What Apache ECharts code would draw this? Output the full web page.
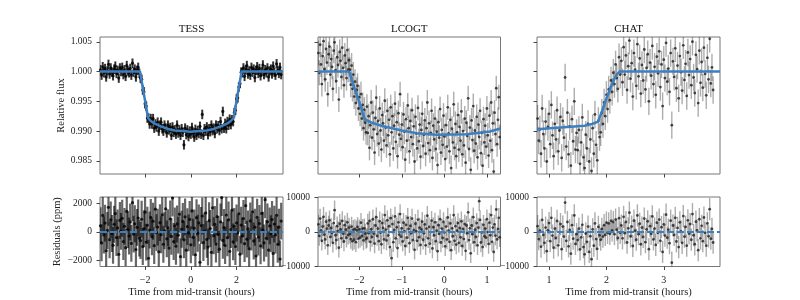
<!DOCTYPE html>
<html><head><meta charset="utf-8">
<script src="https://cdn.jsdelivr.net/npm/echarts@6/dist/echarts.min.js"></script>
<style>html,body{margin:0;padding:0;background:#fff}#c{width:800px;height:300px}</style>
</head><body><div id="c"></div>
<script>
// ---------- TESS ----------
const tessTime = [-3.95,-3.9,-3.85,-3.8,-3.75,-3.7,-3.65,-3.6,-3.55,-3.5,-3.45,-3.4,-3.35,-3.3,-3.25,-3.2,-3.15,-3.1,-3.05,-3,-2.95,-2.9,-2.85,-2.8,-2.75,-2.7,-2.65,-2.6,-2.55,-2.5,-2.45,-2.4,-2.35,-2.3,-2.25,
-2.2,-2.15,-2.1,-2.05,-2,-1.95,-1.9,
-1.85,-1.8,-1.75,-1.7,-1.65,-1.6,-1.55,-1.5,-1.45,-1.4,-1.35,-1.3,-1.25,-1.2,-1.15,-1.1,-1.05,-1,-0.95,-0.9,-0.85,-0.8,-0.75,-0.7,-0.65,-0.6,-0.55,-0.5,-0.45,-0.4,-0.35,-0.3,-0.25,-0.2,-0.15,-0.1,-0.05,0,0.05,0.1,0.15,0.2,0.25,0.3,0.35,0.4,0.45,0.5,0.55,0.6,0.65,0.7,0.75,0.8,0.85,0.9,0.95,1,1.05,1.1,1.15,1.2,1.25,1.3,1.35,1.4,1.45,1.5,1.55,1.6,1.65,1.7,1.75,1.8,1.85,
1.9,1.95,2,2.05,2.1,2.15,2.2,
2.25,2.3,2.35,2.4,2.45,2.5,2.55,2.6,2.65,2.7,2.75,2.8,2.85,2.9,2.95,3,3.05,3.1,3.15,3.2,3.25,3.3,3.35,3.4,3.45,3.5,3.55,3.6,3.65,3.7,3.75,3.8,3.85,3.9,3.95];
const tessFlux = [1.0003,0.9994,1.0008,0.9998,1.0005,0.9991,1.0001,1.0012,0.9996,1.0006,0.9999,0.9993,1.0004,1.0009,0.9997,1.0002,0.9989,1.0006,1.0000,1.0007,0.9995,1.0003,0.9992,1.0010,1.0001,0.9998,1.0005,0.9994,1.0014,0.9999,1.0004,0.9991,1.0002,1.0007,0.9997,
0.9989,0.9987,0.9969,0.9966,0.9946,0.9942,0.9922,
0.9922,0.9912,0.9921,0.9912,0.9921,0.9905,0.9912,0.9907,0.9915,0.9900,0.9910,0.9915,0.9904,0.9900,0.9910,0.9905,0.9897,0.9910,0.9902,0.9906,0.9893,0.9907,0.9898,0.9902,0.9895,0.9910,0.9897,0.9902,0.9893,0.9904,0.9898,0.9877,0.9905,0.9894,0.9902,0.9891,0.9900,0.9895,0.9906,0.9897,0.9890,0.9903,0.9893,0.9901,0.9896,0.9908,0.9895,0.9928,0.9893,0.9904,0.9900,0.9907,0.9894,0.9904,0.9899,0.9910,0.9901,0.9905,0.9896,0.9910,0.9904,0.9909,0.9901,0.9916,0.9904,0.9933,0.9905,0.9913,0.9904,0.9916,0.9910,0.9920,0.9911,0.9919,0.9916,
0.9931,0.9935,0.9954,0.9956,0.9974,0.9980,0.9999,
0.9998,1.0006,0.9992,1.0003,1.0010,0.9996,1.0001,0.9994,1.0007,0.9999,1.0004,0.9990,1.0002,1.0008,0.9997,1.0005,0.9993,1.0000,1.0011,0.9995,1.0003,0.9998,1.0006,0.9991,1.0001,1.0004,0.9996,1.0009,0.9999,0.9994,1.0013,1.0002,0.9997,1.0007,0.9995];
const tessResid = [420,-780,1150,-230,610,-1340,90,1720,-560,840,
-120,-960,530,1280,-410,270,-1590,800,30,950,
-690,380,-1120,1430,150,-300,690,-820,2050,-170,
560,-1250,310,970,-450,-620,880,-1040,210,1380,
-730,460,-1870,120,1010,-350,740,-980,1590,-60,
330,-1410,640,-210,1190,-880,70,1620,-500,280,
-1150,900,-330,2380,-690,410,-1020,550,-240,1240,
-1760,180,730,-570,1050,-1300,360,-80,870,-920,
1470,-390,260,-1620,990,-110,620,-2150,440,1110,
-760,40,1330,-540,-1080,780,230,-1450,1690,-280,
520,-870,1060,-190,-1230,690,2410,-610,300,-970,
1180,-420,840,-1380,150,1520,-710,380,-1040,620,
-90,1270,-1580,470,-300,930,-840,1840,-520,200,
-1190,760,-20,1400,-650,320,-1710,1020,-370,580,
-1000,1290,110,-790,2260,-460,700,-1290,410,-140,
860,-1530,540,-230,1160,-880,320,-1920,750];
const tessFluxErr = 0.0008;
const tessResidErr = 1300;
const tessModelTime = [-3.97,-2.22,-1.87,-1.75,-1.6,-1.3,-1.0,-0.7,-0.35,0,0.35,0.7,1.0,1.3,1.6,1.75,1.87,2.22,4.03];
const tessModelFlux = [1.0,1.0,0.9922,0.9917,0.9913,0.9908,0.99035,0.9901,0.9900,0.9899,0.9900,0.9901,0.99035,0.9908,0.9913,0.9917,0.9922,1.0,1.0];

// ---------- LCOGT ----------
const lcogtTime = [-2.96,-2.94,-2.92,-2.9,-2.88,-2.86,-2.84,-2.82,-2.8,-2.78,-2.76,-2.74,-2.72,-2.7,-2.68,-2.66,-2.64,-2.62,-2.6,-2.58,-2.56,-2.54,-2.52,-2.5,-2.48,-2.46,-2.44,-2.42,-2.4,-2.38,-2.36,-2.34,-2.32,-2.3,-2.28,-2.26,
-2.24,-2.22,-2.2,-2.18,-2.16,-2.14,-2.12,-2.1,-2.08,-2.06,-2.04,-2.02,-2,-1.98,-1.96,-1.94,-1.92,-1.9,-1.88,-1.86,-1.84,
-1.82,-1.8,-1.78,-1.76,-1.74,-1.72,-1.7,-1.68,-1.66,-1.64,
-1.62,-1.6,-1.58,-1.56,-1.54,-1.52,-1.5,-1.48,-1.46,-1.44,
-1.42,-1.4,-1.38,-1.36,-1.34,-1.32,-1.3,-1.28,-1.26,-1.24,
-1.22,-1.2,-1.18,-1.16,-1.14,-1.12,-1.1,-1.08,-1.06,-1.04,
-1.02,-1,-0.98,-0.96,-0.94,-0.92,-0.9,-0.88,-0.86,-0.84,
-0.82,-0.8,-0.78,-0.76,-0.74,-0.72,-0.7,-0.68,-0.66,-0.64,
-0.62,-0.6,-0.58,-0.56,-0.54,-0.52,-0.5,-0.48,-0.46,-0.44,
-0.42,-0.4,-0.38,-0.36,-0.34,-0.32,-0.3,-0.28,-0.26,-0.24,
-0.22,-0.2,-0.18,-0.16,-0.14,-0.12,-0.1,-0.08,-0.06,-0.04,
-0.02,0,0.02,0.04,0.06,0.08,0.1,0.12,0.14,0.16,
0.18,0.2,0.22,0.24,0.26,0.28,0.3,0.32,0.34,0.36,
0.38,0.4,0.42,0.44,0.46,0.48,0.5,0.52,0.54,0.56,
0.58,0.6,0.62,0.64,0.66,0.68,0.7,0.72,0.74,0.76,
0.78,0.8,0.82,0.84,0.86,0.88,0.9,0.92,0.94,0.96,
0.98,1,1.02,1.04,1.06,1.08,1.1,1.12,1.14,1.16,
1.18,1.2,1.22,1.24,1.26,1.28,1.3];
const lcogtFlux = [1.0031,0.9998,1.0045,1.0012,0.9979,1.0026,1.0051,1.0004,0.9987,1.0038,
1.0015,0.9962,1.0029,1.0042,0.9995,1.0021,1.0008,0.9971,1.0035,1.0049,
1.0002,0.9984,1.0024,1.0011,0.9953,1.0033,1.0018,0.9991,1.0040,1.0006,
0.9977,1.0027,1.0014,0.9989,1.0036,1.0003,
1.0019,1.0003,0.9978,1.0010,0.9971,0.9995,0.9958,0.9983,0.9947,0.9969,
0.9976,0.9938,0.9957,0.9929,0.9962,0.9921,0.9944,0.9905,0.9936,0.9914,0.9898,
0.9941,0.9897,0.9925,0.9872,0.9910,0.9948,0.9889,0.9931,0.9903,0.9864,
0.9922,0.9956,0.9895,0.9917,0.9879,0.9938,0.9901,0.9869,0.9927,0.9913,
0.9884,0.9951,0.9906,0.9876,0.9934,0.9893,0.9919,0.9861,0.9940,0.9898,
0.9925,0.9871,0.9909,0.9946,0.9882,0.9915,0.9858,0.9930,0.9894,0.9962,
0.9887,0.9911,0.9873,0.9928,0.9899,0.9852,0.9920,0.9884,0.9943,0.9905,
0.9866,0.9917,0.9890,0.9935,0.9878,0.9908,0.9849,0.9924,0.9896,0.9871,
0.9939,0.9883,0.9911,0.9857,0.9902,0.9929,0.9875,0.9894,0.9918,0.9862,
0.9905,0.9948,0.9880,0.9913,0.9868,0.9897,0.9934,0.9855,0.9909,0.9886,
0.9921,0.9870,0.9899,0.9843,0.9915,0.9889,0.9937,0.9864,0.9902,0.9877,
0.9926,0.9891,0.9853,0.9910,0.9874,0.9940,0.9896,0.9866,0.9919,0.9838,
0.9904,0.9881,0.9945,0.9872,0.9912,0.9858,0.9898,0.9927,0.9869,0.9907,
0.9884,0.9933,0.9861,0.9900,0.9876,0.9921,0.9847,0.9914,0.9892,0.9955,
0.9870,0.9906,0.9835,0.9918,0.9885,0.9942,0.9867,0.9901,0.9879,0.9924,
0.9856,0.9911,0.9890,0.9934,0.9863,0.9897,0.9842,0.9920,0.9881,0.9909,
0.9874,0.9938,0.9893,0.9859,0.9926,0.9884,0.9948,0.9868,0.9913,0.9832,
0.9931,0.9895,0.9972,0.9878,0.9919,0.9957,0.9890];
const lcogtResid = [2100,-1200,3800,400,-2600,1500,4300,-800,-2200,2900,
900,-3900,1800,3300,-1500,1100,-300,-3200,2500,6200,
-1000,-2400,1600,200,-4600,2300,700,-1900,3100,-500,
-2800,1900,600,-1700,2700,-900,
1200,-600,-2100,1500,-2700,600,-2300,800,-3000,400,
1400,-2000,700,-1700,2600,-1200,900,-2500,1000,-500,-2100,
-1800,2400,-400,3100,-2900,700,-1500,3600,-500,-3400,
1800,4200,-1200,900,-2700,3000,-300,-3600,2500,1100,
-2200,4800,600,-2500,3300,-1100,1600,-4400,3900,-7600,
2200,-3000,500,4400,-1900,1300,-4700,2700,-800,5100,
-1400,1000,-2800,2600,100,-4100,2000,-1700,4000,800,
-3300,1700,-400,3800,-2400,500,-5200,2300,200,-2600,
3500,-1600,1200,-3800,700,2900,-2300,-400,2100,-3900,
900,4600,-1900,1400,-3400,-100,3200,-4800,1300,-1000,
2700,-2700,300,-5600,1900,-600,3600,-3100,900,-1800,
2800,-200,-4200,1500,-2200,4100,300,-2900,2400,-5300,
1000,-1300,4800,-2600,1600,-3700,300,2500,-3200,1100,
-1600,3000,-4100,800,-2100,2200,-5500,1800,-400,5600,
-2400,1000,-6200,1800,-700,4200,-3000,600,-1500,2500,
-3900,1200,8800,3400,-3100,-200,-4400,2000,-1300,900,
-1700,3600,-100,-3500,2600,-1000,4800,-2900,1200,-5800,
2100,-1100,6400,-2200,800,4000,-1600];
const lcogtFluxErr = 0.0021;
const lcogtResidErr = 2800;
const lcogtModelTime = [-2.97,-2.24,-1.87,-1.7,-1.48,-1.0,-0.65,-0.18,0.52,1.07,1.32];
const lcogtModelFlux = [1.0,1.0,0.9920,0.9914,0.9909,0.9901,0.98966,0.98937,0.98949,0.98993,0.99044];

// ---------- CHAT ----------
const chatTime = [0.8,0.82,0.84,0.86,0.88,0.9,0.92,0.94,0.96,0.98,
1,1.02,1.04,1.06,1.08,1.1,1.12,1.14,1.16,1.18,
1.2,1.22,1.24,1.26,1.28,1.3,1.32,1.34,1.36,1.38,
1.4,1.42,1.44,1.46,1.48,
1.5,1.52,1.54,1.56,1.58,1.6,1.62,1.64,1.66,1.68,
1.7,1.72,1.74,1.76,1.78,1.8,1.82,1.84,1.86,1.88,
1.9,1.92,1.94,1.96,1.98,2,2.02,2.04,2.06,2.08,
2.1,2.12,2.14,2.16,2.18,2.2,2.22,2.24,
2.26,2.28,2.3,2.32,2.34,2.36,2.38,2.4,2.42,2.44,
2.46,2.48,2.5,2.52,2.54,2.56,2.58,2.6,2.62,2.64,
2.66,2.68,2.7,2.72,2.74,2.76,2.78,2.8,2.82,2.84,
2.86,2.88,2.9,2.92,2.94,2.96,2.98,3,3.02,3.04,
3.06,3.08,3.1,3.12,3.14,3.16,3.18,3.2,3.22,3.24,
3.26,3.28,3.3,3.32,3.34,3.36,3.38,3.4,3.42,3.44,
3.46,3.48,3.5,3.52,3.54,3.56,3.58,3.6,3.62,3.64,
3.66,3.68,3.7,3.72,3.74,3.76,3.78,3.8,3.82,3.84,3.86];
const chatFlux = [0.9921,0.9884,0.9903,0.9862,0.9938,0.9895,0.9871,0.9916,0.9849,0.9907,
0.9929,0.9878,0.9944,0.9893,0.9858,0.9912,0.9886,0.9935,0.9866,0.9901,
0.9924,0.9855,0.9917,0.9889,0.9990,0.9874,0.9931,0.9861,0.9908,0.9842,
0.9920,0.9883,0.9950,0.9869,0.9897,
0.9868,0.9902,0.9845,0.9881,0.9923,0.9856,0.9838,0.9894,0.9871,0.9912,
0.9849,0.9886,0.9833,0.9905,0.9862,0.9928,0.9877,0.9851,0.9917,0.9890,
0.9898,0.9931,0.9912,0.9948,0.9925,0.9961,0.9937,0.9970,0.9952,0.9985,
0.9966,0.9998,0.9979,1.0012,0.9989,0.9971,1.0024,0.9995,
1.0018,0.9982,1.0041,0.9995,1.0027,0.9969,1.0009,1.0052,0.9988,1.0014,
0.9958,1.0031,1.0003,0.9976,1.0046,0.9992,1.0022,0.9963,1.0011,0.9985,
1.0037,0.9970,1.0006,1.0029,0.9950,1.0015,0.9993,1.0043,0.9979,1.0008,
0.9961,1.0025,0.9997,1.0034,0.9974,1.0012,0.9942,1.0020,0.9989,1.0048,
0.9983,1.0005,0.9966,1.0031,0.9910,1.0017,0.9991,1.0039,0.9972,1.0010,
0.9955,1.0026,0.9999,0.9968,1.0044,0.9986,1.0013,0.9959,1.0032,0.9994,
1.0021,0.9977,1.0050,0.9990,0.9964,1.0028,1.0004,0.9947,1.0035,0.9981,
1.0016,0.9973,1.0040,0.9996,0.9960,1.0023,0.9987,1.0055,0.9980,1.0007,0.9969];
const chatResid = [1600,-2100,300,-4300,3400,-900,-3200,1200,-5600,400,
2500,-2700,4000,-1100,-4600,900,-1800,3100,-3900,-100,
2200,-5000,1500,-1400,8400,-2600,2800,-4200,500,-6300,
1900,-2000,4700,-3500,-700,
-2400,900,-5100,-1600,2000,-4400,-6500,-500,-2900,1500,
-5800,-1300,-7900,700,-4000,2400,-2100,-4900,1400,-1000,
-2300,800,-1400,1900,-900,2600,-300,2400,-600,3100,
400,2800,-700,3500,600,-1800,3900,-300,
1800,-1900,4300,-400,2800,-3100,1000,5500,-1300,1500,
-4100,3200,300,-2300,4700,-700,2300,-3600,1200,-1500,
3800,-3000,700,3000,-5000,1600,-600,4400,-2200,900,
-3800,2600,-300,3500,-2600,1300,-5800,2100,-1100,4900,
-1700,600,-3300,3200,-8900,1800,-900,4000,-2800,1100,
-4400,2700,100,-3200,4500,-1400,1400,-4000,3300,-500,
2200,-2300,5100,-1000,-3600,2900,400,-5300,3600,-1900,
1700,-2700,4100,-300,-4000,2400,-1300,6500,-2000,800,-3100];
const chatFluxErr = 0.0023;
const chatResidErr = 3200;
const chatModelTime = [0.79,1.62,1.75,1.855,1.93,2.0,2.1,2.18,2.23,3.98];
const chatModelFlux = [0.9903,0.9909,0.9912,0.9916,0.9935,0.9955,0.9980,0.9995,1.0,1.0];

// ---------- axes ----------
const topYTicks = [0.985,0.990,0.995,1.000,1.005];
const tessXTicks = [-2,0,2];
const lcogtXTicks = [-2,-1,0,1];
const chatXTicks = [1,2,3];
const tessResTicks = [-2000,0,2000];
const wideResTicks = [-10000,0,10000];
const panelTitles = ['TESS','LCOGT','CHAT'];

const F = '"Liberation Serif","Times New Roman",serif';
const BLUE = '#3b7fc0';

const gridBox = [
  {left:100, top:37, width:183, height:137},
  {left:318, top:37, width:182.5, height:137},
  {left:537, top:37, width:183, height:137},
  {left:100, top:197, width:183, height:69.5},
  {left:318, top:197, width:182.5, height:69.5},
  {left:537, top:197, width:183, height:69.5}
];
const minus = v => (v < 0 ? '\u2212' : '') + Math.abs(v);

function xAx(i, min, max, ticks, labels) {
  return {type:'value', gridIndex:i, min, max, axisLine:{show:false, onZero:false}, splitLine:{show:false},
    axisTick:{show:true, inside:false, length:3.5, lineStyle:{color:'#444', width:1}, customValues:ticks},
    axisLabel:{show:labels, customValues:ticks, margin:9, fontFamily:F, fontSize:10, color:'#222', formatter:minus},
    name: labels ? 'Time from mid-transit (hours)' : '', nameLocation:'middle', nameGap:19,
    nameTextStyle:{fontFamily:F, fontSize:10.5, color:'#222'}};
}
function yAx(i, min, max, ticks, labels, fmt, name, gap) {
  return {type:'value', gridIndex:i, min, max, axisLine:{show:false, onZero:false}, splitLine:{show:false},
    axisTick:{show:true, inside:false, length:3.5, lineStyle:{color:'#444', width:1}, customValues:ticks},
    axisLabel:{show:labels, customValues:ticks, margin:8, fontFamily:F, fontSize:9.5, color:'#222', formatter:fmt, showMinLabel:true, showMaxLabel:true},
    name: name || '', nameLocation:'middle', nameGap:gap || 30, nameRotate:90,
    nameTextStyle:{fontFamily:F, fontSize:10.5, color:'#222'}};
}

function errSeries(i, t, v, e, color, w) {
  return {type:'custom', xAxisIndex:i, yAxisIndex:i, clip:true, silent:true, z:1,
    data: t.map((x, k) => [x, v[k] - e, v[k] + e]),
    encode:{x:0, y:[1,2]},
    renderItem: (params, api) => {
      const a = api.coord([api.value(0), api.value(1)]);
      const b = api.coord([api.value(0), api.value(2)]);
      return {type:'line', shape:{x1:a[0], y1:a[1], x2:b[0], y2:b[1]}, style:{stroke:color, lineWidth:w}};
    }};
}
function dotSeries(i, t, v, size, color, zero) {
  const s = {type:'scatter', xAxisIndex:i, yAxisIndex:i, symbol:'circle', symbolSize:size, silent:true, z:2,
    itemStyle:{color:color}, data: t.map((x, k) => [x, v[k]])};
  if (zero) s.markLine = {silent:true, symbol:['none','none'], label:{show:false}, z:4,
    lineStyle:{color:BLUE, width:2, type:[7,3]}, data:[{yAxis:0}]};
  return s;
}
function modelSeries(i, t, v) {
  return {type:'line', xAxisIndex:i, yAxisIndex:i, showSymbol:false, silent:true, z:3,
    lineStyle:{color:BLUE, width:2.5}, data: t.map((x, k) => [x, v[k]])};
}

const option = {
  animation:false,
  backgroundColor:'#fff',
  grid: gridBox.map(g => Object.assign({show:true, borderColor:'#777', borderWidth:1, backgroundColor:'transparent'}, g)),
  xAxis:[
    xAx(0,-3.97,4.03,tessXTicks,false), xAx(1,-2.97,1.32,lcogtXTicks,false), xAx(2,0.79,3.98,chatXTicks,false),
    xAx(3,-3.97,4.03,tessXTicks,true), xAx(4,-2.97,1.32,lcogtXTicks,true), xAx(5,0.79,3.98,chatXTicks,true)
  ],
  yAxis:[
    yAx(0,0.9828,1.0058,topYTicks,true,v=>v.toFixed(3),'Relative flux',32),
    yAx(1,0.9828,1.0058,topYTicks,false),
    yAx(2,0.9828,1.0058,topYTicks,false),
    yAx(3,-2450,2450,tessResTicks,true,minus,'Residuals (ppm)',37),
    yAx(4,-10000,10000,wideResTicks,true,minus),
    yAx(5,-10000,10000,wideResTicks,true,minus)
  ],
  graphic: panelTitles.map((s, k) => ({type:'text', x: gridBox[k].left + gridBox[k].width/2, y:29,
    style:{text:s, font:'11px ' + F, fill:'#111', align:'center', verticalAlign:'middle'}})),
  series:[
    errSeries(0,tessTime,tessFlux,tessFluxErr,'rgba(0,0,0,0.8)',2),
    dotSeries(0,tessTime,tessFlux,3.2,'#000'),
    modelSeries(0,tessModelTime,tessModelFlux),
    errSeries(1,lcogtTime,lcogtFlux,lcogtFluxErr,'rgba(0,0,0,0.32)',1.4),
    dotSeries(1,lcogtTime,lcogtFlux,2.8,'#1e1e1e'),
    modelSeries(1,lcogtModelTime,lcogtModelFlux),
    errSeries(2,chatTime,chatFlux,chatFluxErr,'rgba(0,0,0,0.32)',1.4),
    dotSeries(2,chatTime,chatFlux,2.8,'#1e1e1e'),
    modelSeries(2,chatModelTime,chatModelFlux),
    errSeries(3,tessTime,tessResid,tessResidErr,'rgba(0,0,0,0.6)',2.2),
    dotSeries(3,tessTime,tessResid,3.2,'#000',true),
    errSeries(4,lcogtTime,lcogtResid,lcogtResidErr,'rgba(0,0,0,0.32)',1.4),
    dotSeries(4,lcogtTime,lcogtResid,2.8,'#1e1e1e',true),
    errSeries(5,chatTime,chatResid,chatResidErr,'rgba(0,0,0,0.32)',1.4),
    dotSeries(5,chatTime,chatResid,2.8,'#1e1e1e',true)
  ]
};
echarts.init(document.getElementById('c'), null, {renderer:'canvas'}).setOption(option);
</script>
</body></html>
